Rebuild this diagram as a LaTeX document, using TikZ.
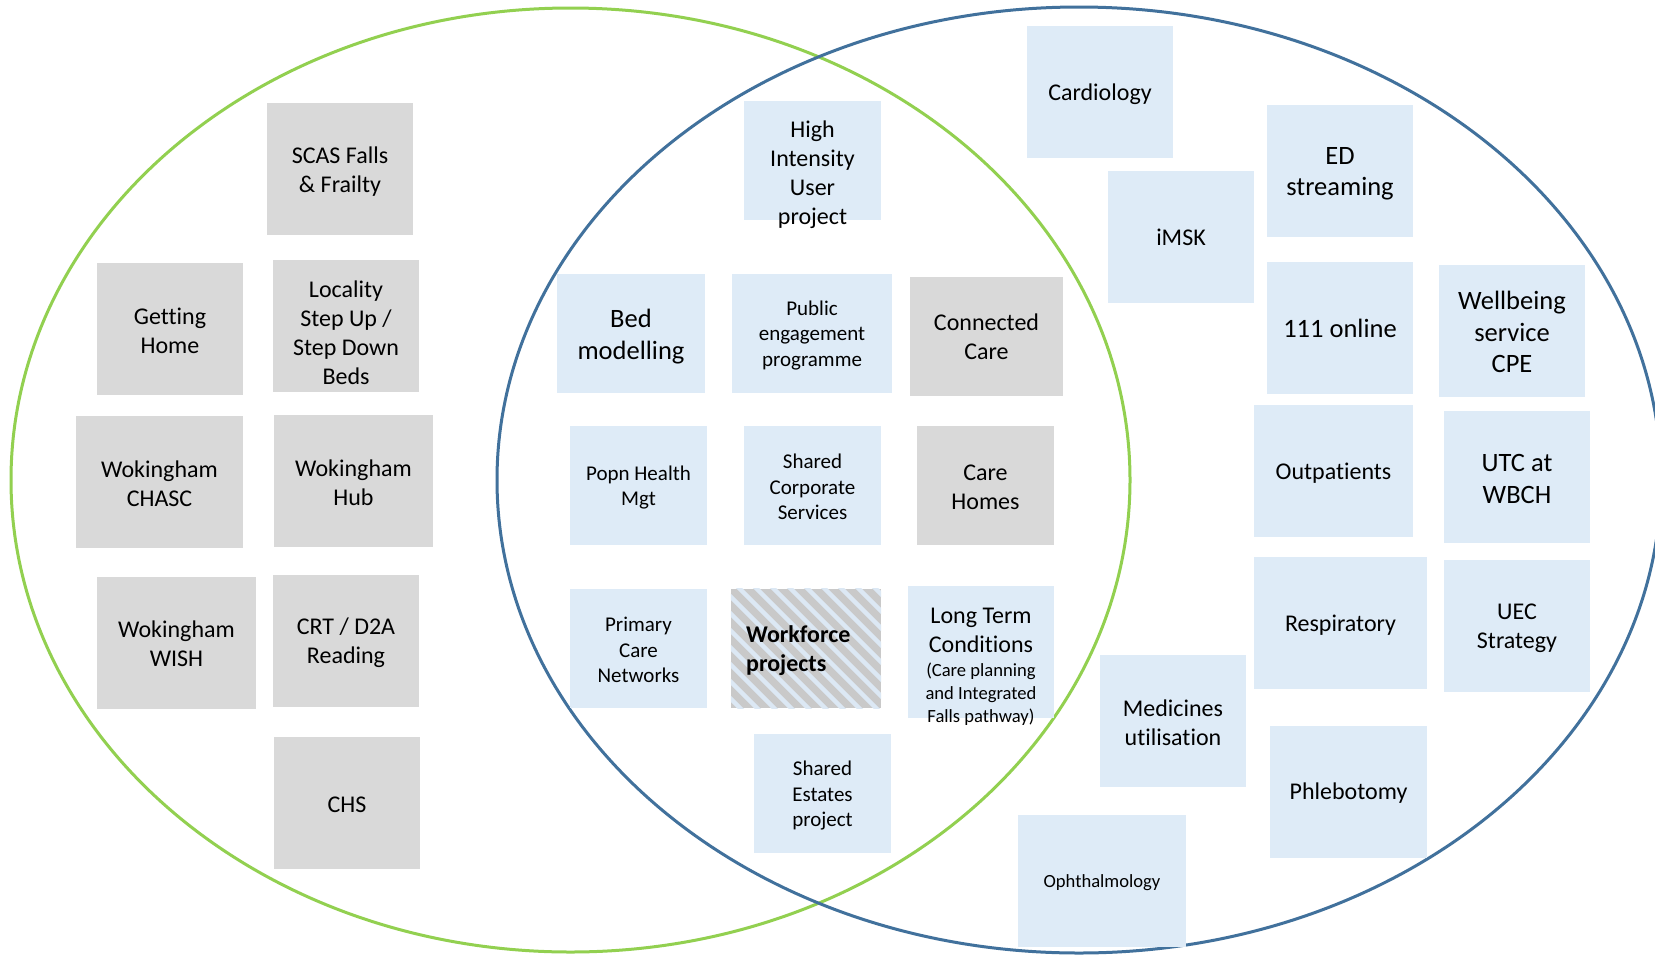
\documentclass[tikz,border=0pt]{standalone}
\usepackage{fontspec}
\setmainfont{Carlito}[Ligatures=NoCommon]
\definecolor{gfill}{HTML}{D9D9D9}
\definecolor{bfill}{HTML}{DEEBF7}
\definecolor{gline}{HTML}{92D050}
\definecolor{bline}{HTML}{41719C}
\definecolor{hatchg}{HTML}{C9C9C9}
\definecolor{hatchb}{HTML}{DCE8F4}
\newcommand\fsnorm{\fontsize{24}{29}\selectfont}
\newcommand\fsbig{\fontsize{26.5}{31.5}\selectfont}
\newcommand\fssmall{\fontsize{21}{25.5}\selectfont}
\newcommand\fstiny{\fontsize{18.6}{23}\selectfont}
% #1 box style, #2 name, #3 x, #4 y, #5 text y, #6 font, #7 text
\newcommand\boxnode[7]{%
  \node[#1] (#2) at (#3,#4) {};
  \node[txt, font=#6] (#2-t) at (#3,#5) {#7};}
\begin{document}
\begin{tikzpicture}[x=1pt,y=-1pt,
  boxbase/.style={draw=none, inner sep=0pt},
  gbox/.style={boxbase, fill=gfill},
  bbox/.style={boxbase, fill=bfill},
  hbox/.style={boxbase, fill=hatchg},
  sq/.style={minimum width=146pt, minimum height=132pt},
  sm/.style={minimum width=137pt, minimum height=119pt},
  txt/.style={inner sep=0pt, align=center, text=black, font=\fsnorm},
  ring/.style={line width=3pt}]
\useasboundingbox (0,0) rectangle (1655,954);
\clip (0,0) rectangle (1655,954);
\fill[white] (0,0) rectangle (1655,954);

% ellipses
\draw[ring, gline] (570.5,480) ellipse [x radius=559.5, y radius=472];
\draw[ring, bline] (1079,480) ellipse [x radius=582, y radius=473];

% left (grey)
\boxnode{gbox, sq}{scas}{340}{169}{171.5}{\fsnorm}{SCAS Falls\\\& Frailty}
\boxnode{gbox, sq}{getting}{170}{329}{330.5}{\fsnorm}{Getting\\Home}
\boxnode{gbox, sq}{locality}{346}{326}{332.5}{\fsnorm}{Locality\\Step Up /\\Step Down\\Beds}
\boxnode{gbox, minimum width=167pt, minimum height=132pt}{chasc}{159.5}{482}{483.5}{\fsnorm}{Wokingham\\CHASC}
\boxnode{gbox, minimum width=159pt, minimum height=132pt}{hub}{353.5}{481}{482.5}{\fsnorm}{Wokingham\\Hub}
\boxnode{gbox, minimum width=159pt, minimum height=132pt}{wish}{176.5}{643}{643.5}{\fsnorm}{Wokingham\\WISH}
\boxnode{gbox, sq}{crt}{346}{641}{643}{\fsnorm}{CRT / D2A\\Reading}
\boxnode{gbox, sq}{chs}{347}{803}{805}{\fsnorm}{CHS}

% middle
\boxnode{bbox, sm}{hiu}{812.5}{160.5}{175}{\fsnorm}{High\\Intensity\\User\\project}
\boxnode{bbox, minimum width=148pt, minimum height=119pt}{bed}{631}{333.5}{336.5}{\fsbig}{Bed\\modelling}
\boxnode{bbox, minimum width=160pt, minimum height=119pt}{pub}{812}{333.5}{335.5}{\fssmall}{Public\\engagement\\programme}
\boxnode{gbox, minimum width=153pt, minimum height=119pt}{conn}{986.5}{336.5}{337}{\fsnorm}{Connected\\Care}
\boxnode{bbox, sm}{popn}{638.5}{485.5}{487.5}{\fssmall}{Popn Health\\Mgt}
\boxnode{bbox, sm}{corp}{812.5}{485.5}{487}{\fssmall}{Shared\\Corporate\\Services}
\boxnode{gbox, sm}{homes}{985.5}{485.5}{487}{\fsnorm}{Care\\Homes}
\boxnode{bbox, sm}{pcn}{638.5}{648.5}{650}{\fssmall}{Primary\\Care\\Networks}
\node[hbox, minimum width=150pt, minimum height=119pt] (work) at (806,648.5) {};
\begin{scope}
  \clip (work.north west) rectangle (work.south east);
  \foreach \k in {-153,-136,...,170} \draw[hatchb, line width=4.5pt] ({731+\k},580) -- ++(140,140);
\end{scope}
\node[txt, anchor=west, align=left, font=\bfseries\fsnorm] (work-t) at (746,650.5) {Workforce\\projects};
\node[bbox, sq] (ltc) at (981,652) {};
\node[txt, font={\fontsize{24}{28.5}\selectfont}] (ltc-a) at (981,630.5) {Long Term\\Conditions};
\node[txt, font={\fontsize{18.6}{22.7}\selectfont}] (ltc-b) at (981,694) {(Care planning\\and Integrated\\Falls pathway)};
\boxnode{bbox, sm}{estates}{822.5}{793.5}{795.5}{\fssmall}{Shared\\Estates\\project}

% right (blue)
\boxnode{bbox, sq}{cardio}{1100}{92}{94}{\fsnorm}{Cardiology}
\boxnode{bbox, sq}{imsk}{1181}{237}{237.5}{\fsnorm}{iMSK}
\boxnode{bbox, sq}{ed}{1340}{171}{174}{\fsbig}{ED\\streaming}
\boxnode{bbox, sq}{online}{1340}{328}{328}{\fsbig}{111 online}
\boxnode{bbox, sq}{well}{1512}{331}{332}{\fsbig}{Wellbeing\\service\\CPE}
\boxnode{bbox, minimum width=159pt, minimum height=132pt}{outp}{1333.5}{471}{473}{\fsnorm}{Outpatients}
\boxnode{bbox, sq}{utc}{1517}{477}{479}{\fsbig}{UTC at\\WBCH}
\boxnode{bbox, minimum width=173pt, minimum height=132pt}{resp}{1340.5}{623}{625}{\fsnorm}{Respiratory}
\boxnode{bbox, sq}{uec}{1517}{626}{628}{\fsnorm}{UEC\\Strategy}
\boxnode{bbox, sq}{med}{1173}{721}{722.5}{\fsnorm}{Medicines\\utilisation}
\boxnode{bbox, minimum width=157pt, minimum height=132pt}{phleb}{1348.5}{792}{793.5}{\fsnorm}{Phlebotomy}
\boxnode{bbox, minimum width=168pt, minimum height=132pt}{oph}{1102}{881}{882.5}{\fstiny}{Ophthalmology}
\end{tikzpicture}
\end{document}
